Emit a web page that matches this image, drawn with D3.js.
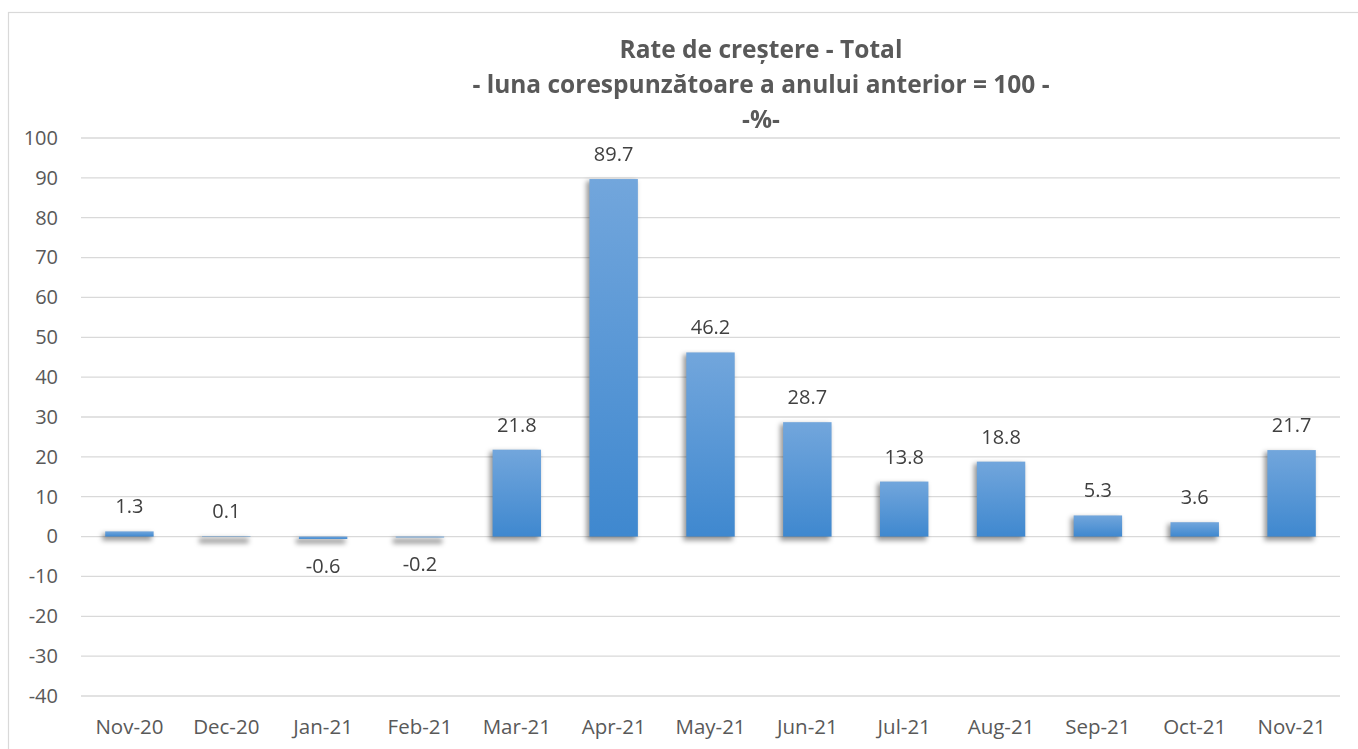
<!DOCTYPE html>
<html><head><meta charset="utf-8">
<script src="https://cdn.jsdelivr.net/npm/d3@7/dist/d3.min.js"></script>
<style>body{margin:0;background:#fff}svg{display:block}</style>
</head><body><svg id="c" width="1358" height="749"></svg>
<script>
const categories = ["Nov-20","Dec-20","Jan-21","Feb-21","Mar-21","Apr-21","May-21","Jun-21","Jul-21","Aug-21","Sep-21","Oct-21","Nov-21"];
const values = [1.3,0.1,-0.6,-0.2,21.8,89.7,46.2,28.7,13.8,18.8,5.3,3.6,21.7];
const yTicks = [100,90,80,70,60,50,40,30,20,10,0,-10,-20,-30,-40];
const titleLines = ["Rate de creștere - Total","- luna corespunzătoare a anului anterior = 100 -","-%-"];

(function(){
const svg = d3.select("#c");
const font = "'Open Sans', 'Liberation Sans', sans-serif";
const pL = 81, pR = 1340, pT = 138, pB = 696;
const fmtNum = d => String(d).replace("\u2212","-");

const defs = svg.append("defs");
const g = defs.append("linearGradient").attr("id","bg").attr("x1",0).attr("y1",0).attr("x2",0).attr("y2",1);
g.append("stop").attr("offset","0%").attr("stop-color","#72a6dc");
g.append("stop").attr("offset","100%").attr("stop-color","#3f88cf");
const f = defs.append("filter").attr("id","blur").attr("x","-30%").attr("y","-100%").attr("width","160%").attr("height","300%");
f.append("feGaussianBlur").attr("stdDeviation",2.5);

svg.append("rect").attr("x",8.5).attr("y",12.5).attr("width",1380).attr("height",760)
  .attr("fill","#fff").attr("stroke","#d9d9d9").attr("stroke-width",1.2);

const x = d3.scaleBand().domain(categories).range([pL,pR]).paddingInner(0.5).paddingOuter(0.25);
const y = d3.scaleLinear().domain([-40,100]).range([pB,pT]);

svg.append("g").selectAll("line").data(yTicks).join("line")
  .attr("x1",pL).attr("x2",pR).attr("y1",d=>y(d)).attr("y2",d=>y(d))
  .attr("stroke","#d9d9d9").attr("stroke-width",1.3);

const ya = svg.append("g").attr("transform",`translate(58,0)`)
  .call(d3.axisLeft(y).tickValues(yTicks).tickSize(0).tickPadding(0).tickFormat(d=>fmtNum(d)));
ya.select(".domain").remove();
ya.selectAll("text").attr("font-family",font).attr("font-size",20).attr("fill","#595959");

const xa = svg.append("g").attr("transform",`translate(0,${pB})`)
  .call(d3.axisBottom(x).tickSize(0).tickPadding(0));
xa.select(".domain").remove();
xa.selectAll("text").attr("font-family",font).attr("font-size",20.5).attr("fill","#595959")
  .attr("dy",null).attr("y",38);

// shadows
svg.append("g").attr("filter","url(#blur)").selectAll("rect").data(values).join("rect")
  .attr("x",(d,i)=>x(categories[i])-3)
  .attr("width",x.bandwidth()+1)
  .attr("y",d=>y(Math.max(0,d))+2)
  .attr("height",d=>Math.max(5,Math.abs(y(d)-y(0))+2))
  .attr("fill","#000").attr("opacity",0.4);

svg.append("g").selectAll("rect").data(values).join("rect")
  .attr("x",(d,i)=>x(categories[i]))
  .attr("width",x.bandwidth())
  .attr("y",d=>y(Math.max(0,d)))
  .attr("height",d=>Math.abs(y(d)-y(0)))
  .attr("fill","url(#bg)");

svg.append("g").selectAll("text").data(values).join("text")
  .attr("x",(d,i)=>x(categories[i])+x.bandwidth()/2)
  .attr("y",d=> d>=0 ? y(d)-18 : y(d)+34)
  .attr("text-anchor","middle")
  .attr("font-family",font).attr("font-size",20).attr("fill","#404040")
  .text(d=>d3.format(".1f")(d).replace("\u2212","-"));

svg.append("g").selectAll("text").data(titleLines).join("text")
  .attr("x",761).attr("y",(d,i)=>58+i*35)
  .attr("text-anchor","middle")
  .attr("font-family",font).attr("font-size",24.5).attr("font-weight","bold").attr("fill","#595959")
  .text(d=>d);
})();
</script></body></html>
